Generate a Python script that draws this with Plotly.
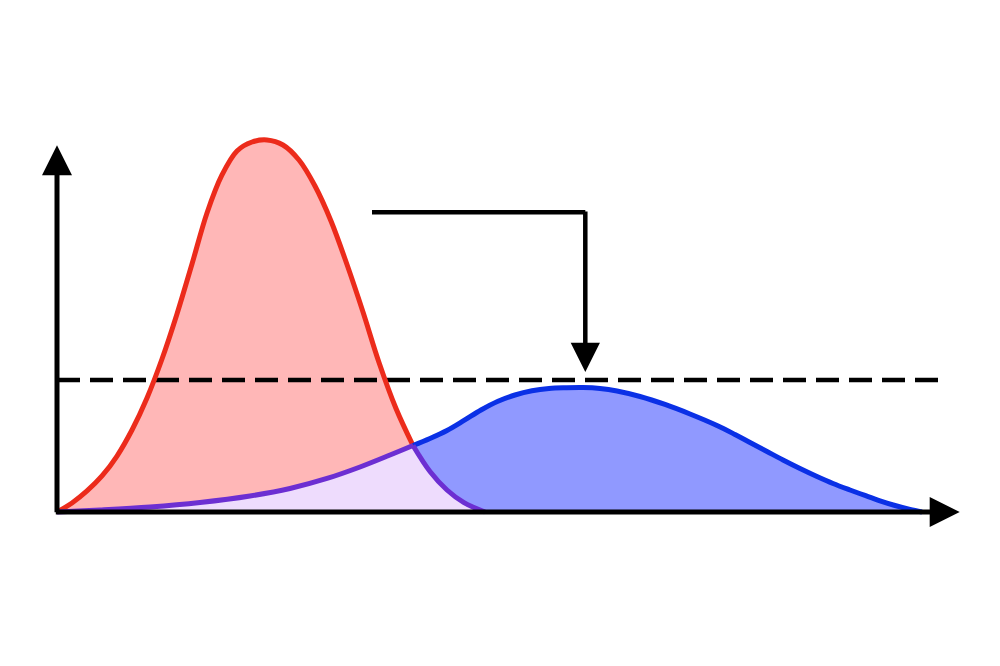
import plotly.graph_objects as go

# ---- data (x: days, y: cases; red peak = 100) ----
red_x = [0, 1.667, 3.333, 5.0, 6.667, 8.333, 10.0, 11.667, 13.333, 15.0,
         16.667, 18.333, 20.0, 21.667, 23.333, 25.111, 26.889, 28.667, 30.444,
         32.222, 34.0, 35.778, 37.667, 39.556, 41.444, 43.333, 45.222, 47.556]
red_y = [0, 2.42, 5.65, 9.68, 15.05, 22.04, 30.65, 41.13, 53.23, 66.67,
         80.38, 90.59, 97.04, 99.46, 100.0, 98.66, 94.62, 87.63, 78.23,
         66.53, 53.76, 40.19, 27.82, 17.88, 10.89, 5.91, 2.50, 0]

blue_x = [0, 4.778, 10.333, 15.889, 21.444, 25.889, 30.0, 33.667, 37.0, 39.556,
          41.444, 43.333, 45.222, 47.111, 49.0, 50.889, 52.778, 54.667, 56.556,
          58.444, 60.333, 62.222, 64.778, 67.556, 70.333, 73.333, 75.333, 77.0,
          78.889, 80.667, 82.556, 84.444, 86.222, 88.111, 89.778, 91.444, 93.111,
          94.778, 96.111]
blue_y = [0, 0.54, 1.34, 2.55, 4.30, 6.32, 9.01, 12.10, 15.32, 17.88,
          19.76, 21.91, 24.60, 27.42, 29.78, 31.45, 32.58, 33.20, 33.39,
          33.44, 33.20, 32.53, 31.05, 28.90, 26.34, 23.25, 20.83, 18.68,
          16.26, 13.98, 11.69, 9.54, 7.66, 5.91, 4.44, 3.01, 1.75,
          0.67, 0]

capacity = 35.5
cross_x = 39.556

# ---- styles ----
RED = "#ec2b1b"
PINK = "#ffb7b7"
BLUE = "#0a30e6"
BLUE_FILL = "#9099ff"
PURPLE = "#6c2fd2"
LAVENDER = "#eedcfd"

# split curves at crossing point
ri = red_x.index(cross_x)
bi = blue_x.index(cross_x)
red_top_x, red_top_y = red_x[:ri + 1], red_y[:ri + 1]
red_low_x, red_low_y = red_x[ri:], red_y[ri:]
blue_low_x, blue_low_y = blue_x[:bi + 1], blue_y[:bi + 1]
blue_top_x, blue_top_y = blue_x[bi:], blue_y[bi:]
min_x = blue_low_x + red_low_x[1:]
min_y = blue_low_y + red_low_y[1:]

fig = go.Figure()
nofill = dict(mode="lines", showlegend=False, hoverinfo="skip")


def fill_trace(xs, ys, color):
    return go.Scatter(x=xs, y=ys, fill="tozeroy", fillcolor=color,
                      line=dict(width=0, color=color, shape="spline"), **nofill)


def line_trace(xs, ys, color, width):
    return go.Scatter(x=xs, y=ys, line=dict(color=color, width=width, shape="spline"), **nofill)


fig.add_trace(fill_trace(red_x, red_y, PINK))
fig.add_trace(fill_trace(blue_x, blue_y, BLUE_FILL))
fig.add_trace(fill_trace(min_x, min_y, LAVENDER))

# dashed capacity line
fig.add_trace(go.Scatter(x=[0, 98], y=[capacity, capacity], mode="lines",
                         line=dict(color="black", width=4.5, dash="23px,10px"),
                         showlegend=False, hoverinfo="skip"))

fig.add_trace(line_trace(red_top_x, red_top_y, RED, 5))
fig.add_trace(line_trace(blue_top_x, blue_top_y, BLUE, 5))
fig.add_trace(line_trace(red_low_x, red_low_y, PURPLE, 5))
fig.add_trace(line_trace(blue_low_x, blue_low_y, PURPLE, 5))

# bend arrow: horizontal part
bend_y = 80.6
bend_x0, bend_x1 = 35.0, 58.7
fig.add_trace(go.Scatter(x=[bend_x0, bend_x1], y=[bend_y, bend_y], mode="lines",
                         line=dict(color="black", width=4.5), showlegend=False, hoverinfo="skip"))

arrow_common = dict(xref="x", yref="y", axref="x", ayref="y", text="", showarrow=True,
                    arrowhead=2, arrowcolor="black")
annotations = [
    # y axis
    dict(x=0, y=98.6, ax=0, ay=-0.5, arrowwidth=5, arrowsize=1.2, **arrow_common),
    # x axis
    dict(x=100.3, y=0, ax=-0.3, ay=0, arrowwidth=5, arrowsize=1.2, **arrow_common),
    # bend arrow vertical
    dict(x=bend_x1, y=37.6, ax=bend_x1, ay=bend_y + 0.6, arrowwidth=4.5, arrowsize=1.3, **arrow_common),
]

fig.update_layout(
    width=1000, height=666, autosize=False,
    margin=dict(l=0, r=0, t=0, b=0),
    paper_bgcolor="white", plot_bgcolor="white",
    xaxis=dict(range=[-5.444, 105.667], visible=False, fixedrange=True),
    yaxis=dict(range=[-43.55, 135.48], visible=False, fixedrange=True),
    annotations=annotations,
    showlegend=False,
)

fig.write_html("out.html")
